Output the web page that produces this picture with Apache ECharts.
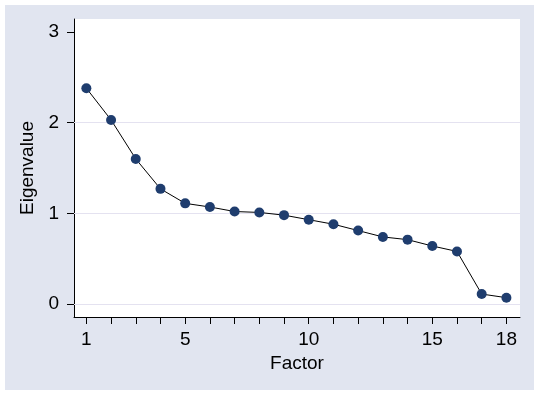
<!DOCTYPE html>
<html>
<head>
<meta charset="utf-8">
<script src="https://cdn.jsdelivr.net/npm/echarts@6/dist/echarts.min.js"></script>
<style>
html,body{margin:0;padding:0;background:#ffffff;}
#c{width:537px;height:393px;}
</style>
</head>
<body>
<div id="c"></div>
<script>
var factors = [1,2,3,4,5,6,7,8,9,10,11,12,13,14,15,16,17,18];
var eigenvalues = [2.38,2.03,1.60,1.27,1.11,1.07,1.02,1.01,0.98,0.93,0.88,0.81,0.74,0.71,0.64,0.58,0.11,0.07];
var xTickValues = [1,2,3,4,5,6,7,8,9,10,11,12,13,14,15,16,17,18];
var xLabelValues = [1,5,10,15,18];
var yTickValues = [0,1,2,3];
var yGridValues = [0,1,2];

var font = '"Liberation Sans", Arial, sans-serif';
var chart = echarts.init(document.getElementById('c'));
chart.setOption({
  backgroundColor: '#ffffff',
  animation: false,
  graphic: [{
    type: 'rect', z: -10, silent: true,
    shape: {x: 5, y: 5, width: 529, height: 385},
    style: {fill: '#e1e5f0'}
  }],
  grid: {left: 74, top: 19, width: 446, height: 298, show: true, backgroundColor: '#ffffff', borderWidth: 0},
  xAxis: {
    type: 'value', min: 0.5, max: 18.55,
    name: 'Factor', nameLocation: 'middle', nameGap: 28,
    nameTextStyle: {fontFamily: font, fontSize: 19, color: '#000'},
    axisLine: {show: true, onZero: false, lineStyle: {color: '#000', width: 1}},
    axisTick: {show: true, length: 7, customValues: xTickValues, lineStyle: {color: '#000'}},
    axisLabel: {customValues: xLabelValues, margin: 13, fontFamily: font, fontSize: 19, color: '#000'},
    splitLine: {show: false}
  },
  yAxis: {
    type: 'value', min: -0.143, max: 3.143,
    name: 'Eigenvalue', nameLocation: 'middle', nameGap: 36,
    nameTextStyle: {fontFamily: font, fontSize: 19, color: '#000'},
    axisLine: {show: true, onZero: false, lineStyle: {color: '#000', width: 1}},
    axisTick: {show: true, length: 7, customValues: yTickValues, lineStyle: {color: '#000'}},
    axisLabel: {customValues: yTickValues, margin: 15, fontFamily: font, fontSize: 19, color: '#000'},
    splitLine: {show: false}
  },
  series: [{
    type: 'line',
    data: factors.map(function(f, i){ return [f, eigenvalues[i]]; }),
    symbol: 'circle', symbolSize: 10,
    itemStyle: {color: '#1f3d6e'},
    lineStyle: {color: '#000', width: 1},
    markLine: {
      silent: true, symbol: 'none', label: {show: false},
      lineStyle: {color: '#e4e2f0', width: 1, type: 'solid'},
      data: yGridValues.map(function(v){ return {yAxis: v}; }),
      z: 1
    },
    z: 3
  }]
});
</script>
</body>
</html>
